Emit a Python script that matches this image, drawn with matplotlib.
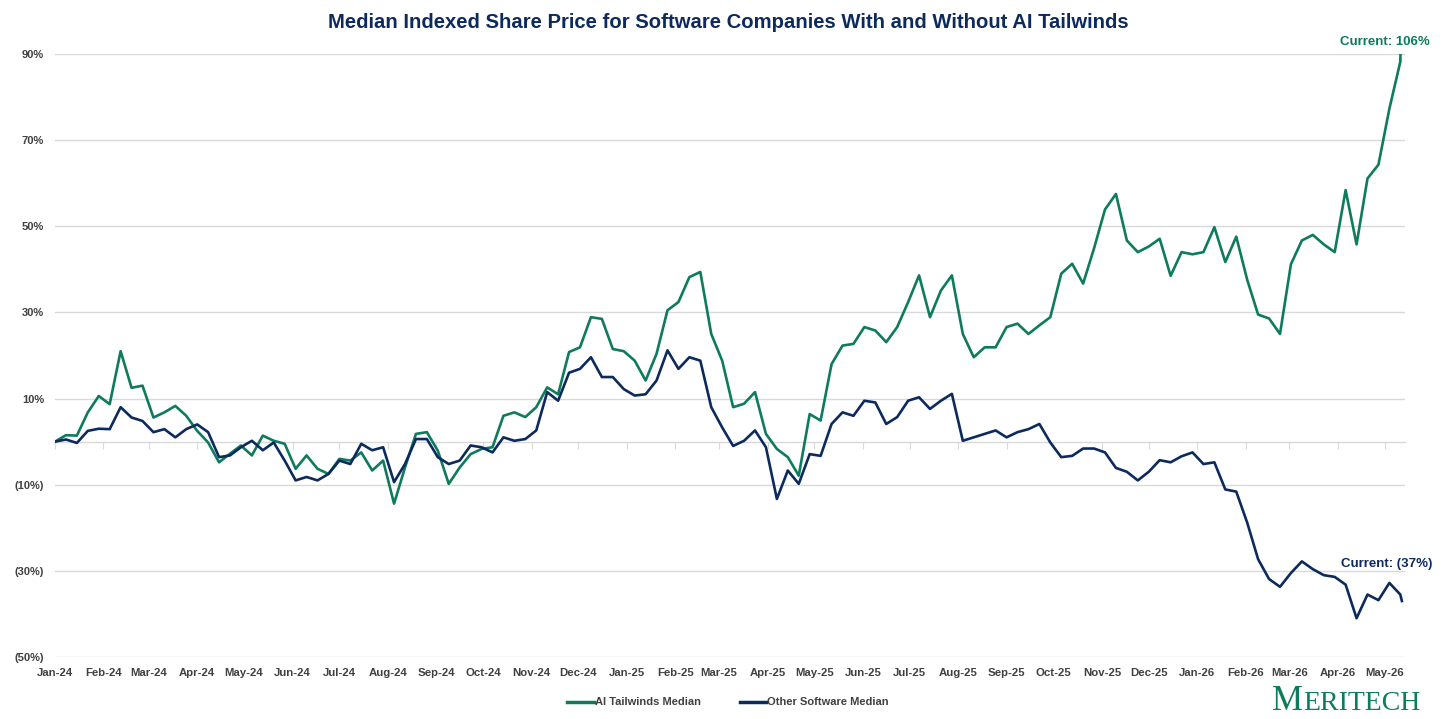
import matplotlib
matplotlib.use("Agg")
import matplotlib.pyplot as plt
import matplotlib.dates as mdates
import matplotlib.ticker as mticker
import pandas as pd
import numpy as np

# Weekly readings (indexed % change)
dates = list(pd.date_range("2024-01-01", periods=124, freq="7D")) + [pd.Timestamp("2026-05-12")]

ai_tailwinds = [
    0, 1.5, 1.4, 6.8, 10.6, 8.7, 21.0, 12.5, 13.0, 5.6,
    6.8, 8.3, 6.0, 2.5, -0.2, -4.8, -2.8, -0.9, -3.2, 1.4,
    0.2, -0.5, -6.3, -3.2, -6.3, -7.5, -4.0, -4.4, -2.5, -6.7,
    -4.4, -14.4, -6.0, 1.8, 2.2, -2.1, -9.8, -6.0, -2.9, -1.7,
    -1.3, 6.0, 6.8, 5.7, 8.0, 12.6, 11.0, 20.8, 21.9, 28.9,
    28.5, 21.5, 21.0, 18.8, 14.2, 20.4, 30.5, 32.4, 38.2, 39.4,
    25.0, 18.8, 8.0, 8.8, 11.5, 1.8, -1.7, -3.6, -7.9, 6.4,
    4.9, 18.0, 22.3, 22.7, 26.6, 25.8, 23.1, 26.6, 32.4, 38.6,
    28.9, 35.1, 38.6, 25.0, 19.6, 21.9, 21.9, 26.6, 27.4, 25.0,
    27.0, 28.9, 39.0, 41.3, 36.7, 44.9, 53.9, 57.5, 46.7, 44.0,
    45.3, 47.1, 38.5, 44.0, 43.5, 44.0, 49.8, 41.7, 47.6, 37.6,
    29.5, 28.6, 25.0, 41.2, 46.7, 48.0, 45.8, 44.0, 58.4, 45.8,
    61.1, 64.3, 77.3, 88.2, 106.0,
]

other_software = [
    0, 0.5, -0.3, 2.5, 3.0, 2.9, 8.0, 5.6, 4.8, 2.2,
    2.9, 1.0, 2.9, 4.0, 2.2, -3.6, -3.2, -1.3, 0.2, -2.0,
    -0.2, -4.4, -9.0, -8.2, -9.0, -7.5, -4.4, -5.2, -0.5, -2.0,
    -1.3, -9.4, -5.2, 0.6, 0.6, -3.6, -5.2, -4.4, -0.9, -1.3,
    -2.5, 1.0, 0.2, 0.6, 2.6, 11.5, 9.5, 16.0, 16.9, 19.6,
    15.0, 15.0, 12.2, 10.7, 11.0, 14.2, 21.2, 16.9, 19.6, 18.8,
    8.0, 3.3, -1.0, 0.2, 2.6, -1.3, -13.3, -6.7, -9.8, -2.9,
    -3.3, 4.1, 6.8, 6.0, 9.5, 9.1, 4.1, 5.7, 9.5, 10.3,
    7.6, 9.5, 11.1, 0.2, 1.0, 1.8, 2.6, 1.0, 2.2, 2.9,
    4.1, -0.2, -3.6, -3.3, -1.6, -1.6, -2.5, -6.1, -7.0, -9.0,
    -7.0, -4.3, -4.8, -3.4, -2.5, -5.2, -4.8, -11.1, -11.6, -18.8,
    -27.3, -31.9, -33.7, -30.5, -27.8, -29.6, -31.0, -31.4, -33.2, -41.0,
    -35.5, -36.8, -32.8, -35.5, -37.0,
]

y_ticks = [-50, -30, -10, 10, 30, 50, 70, 90]
month_ticks = pd.date_range("2024-01-01", "2026-05-01", freq="MS")

GREEN = "#0e7b5c"
NAVY = "#0c2a5e"
GRID = "#d9d9d9"
TXT = "#404040"

plt.rcParams["font.family"] = ["Liberation Sans", "DejaVu Sans"]


def pct(v, pos=None):
    if v < 0:
        return f"({-v:.0f}%)"
    return f"{v:.0f}%"


fig = plt.figure(figsize=(14.56, 7.19), dpi=100)
ax = fig.add_axes([55 / 1456, 62 / 719, 1350 / 1456, 603 / 719])

ax.plot(dates, ai_tailwinds, color=GREEN, lw=1.9, label="AI Tailwinds Median", zorder=3)
ax.plot(dates, other_software, color=NAVY, lw=1.9, label="Other Software Median", zorder=4)

ymin, ymax = -50, 90
ax.set_ylim(ymin, ymax)
ax.set_xlim(pd.Timestamp("2024-01-01"), pd.Timestamp("2026-05-14"))

ax.set_yticks(y_ticks)
ax.yaxis.set_major_formatter(mticker.FuncFormatter(pct))
ax.set_xticks(month_ticks)
ax.xaxis.set_major_formatter(mdates.DateFormatter("%b-%y"))
ax.grid(axis="y", color=GRID, lw=1)
ax.set_axisbelow(True)
for s in ax.spines.values():
    s.set_visible(False)
ax.tick_params(axis="both", length=0, colors=TXT)
ax.tick_params(axis="y", pad=8, labelsize=8)
ax.tick_params(axis="x", pad=8, labelsize=8.2)
for lbl in ax.get_xticklabels() + ax.get_yticklabels():
    lbl.set_fontweight("bold")

# zero line with month tick marks
zero_pos = (0 - ymin) / (ymax - ymin)
sec = ax.secondary_xaxis(zero_pos)
sec.set_xticks(mdates.date2num(month_ticks))
sec.tick_params(axis="x", direction="out", length=5, color=GRID, labelbottom=False, labeltop=False)
for s in sec.spines.values():
    s.set_color(GRID)
    s.set_linewidth(1)

# current value labels
ax.annotate(f"Current: {pct(ai_tailwinds[-1])}", xy=(dates[-1], ymax), xytext=(-12, 4),
            textcoords="offset points", ha="center", va="bottom", color=GREEN,
            fontsize=9.5, fontweight="bold", annotation_clip=False)
ax.annotate(f"Current: {pct(other_software[-1])}", xy=(dates[-1], other_software[-1]), xytext=(-11, 22),
            textcoords="offset points", ha="center", va="bottom", color=NAVY,
            fontsize=9.5, fontweight="bold", annotation_clip=False)

fig.suptitle("Median Indexed Share Price for Software Companies With and Without AI Tailwinds",
             y=0.982, fontsize=14.6, fontweight="bold", color=NAVY)

leg = fig.legend(loc="center", bbox_to_anchor=(0.5, 0.023), ncol=2, frameon=False,
                 handlelength=2.4, handletextpad=0.1, columnspacing=3.5,
                 prop={"size": 8, "weight": "bold"})
for t in leg.get_texts():
    t.set_color(TXT)
for h in leg.legend_handles:
    h.set_linewidth(2.5)

# logo
fig.text(1303 / 1456, 0.013, "M", fontsize=25, color=GREEN, family="Liberation Serif", ha="right", va="baseline")
fig.text(1303 / 1456, 0.013, "ERITECH", fontsize=20, color=GREEN, family="Liberation Serif", ha="left", va="baseline")

fig.savefig("out.png", dpi=100)
